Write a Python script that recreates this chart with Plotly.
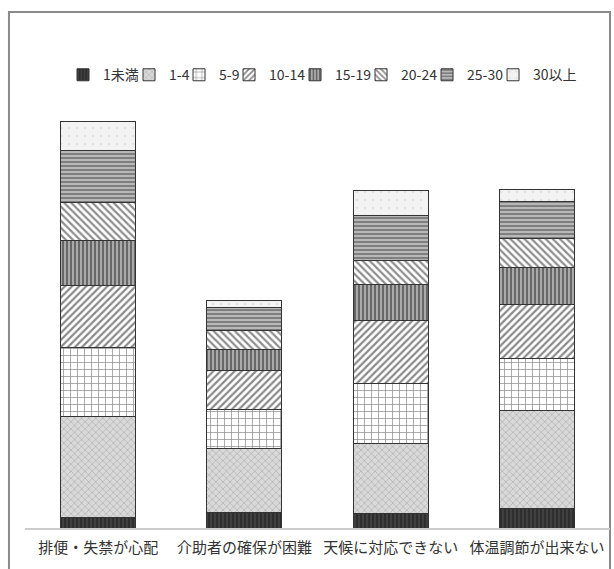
import plotly.graph_objects as go

# Categories (x axis) and age-band series
categories = ["排便・失禁が心配", "介助者の確保が困難", "天候に対応できない", "体温調節が出来ない"]
series_names = ["1未満", "1-4", "5-9", "10-14", "15-19", "20-24", "25-30", "30以上"]

under_1 = [2.7, 3.8, 3.7, 4.9]
age_1_4 = [25.3, 16.1, 17.5, 24.6]
age_5_9 = [17.1, 9.8, 15.0, 12.9]
age_10_14 = [15.5, 9.6, 15.8, 13.6]
age_15_19 = [11.4, 5.4, 9.0, 9.2]
age_20_24 = [9.3, 4.6, 5.8, 7.3]
age_25_30 = [13.0, 5.9, 11.4, 9.2]
over_30 = [7.3, 1.8, 6.3, 2.9]

series_values = [under_1, age_1_4, age_5_9, age_10_14, age_15_19, age_20_24, age_25_30, over_30]

# Monochrome hatch fills, one per age band
patterns = [
    dict(shape="|", fgcolor="#6a6a6a", bgcolor="#2e2e2e", size=4, solidity=0.3),
    dict(shape="x", fgcolor="#858585", bgcolor="#d9d9d9", size=5, solidity=0.25),
    dict(shape="+", fgcolor="#1e1e1e", bgcolor="#ffffff", size=7, solidity=0.2),
    dict(shape="/", fgcolor="#151515", bgcolor="#ffffff", size=5, solidity=0.45),
    dict(shape="|", fgcolor="#151515", bgcolor="#aaaaaa", size=4, solidity=0.45),
    dict(shape="\\", fgcolor="#1e1e1e", bgcolor="#ffffff", size=5, solidity=0.45),
    dict(shape="-", fgcolor="#2a2a2a", bgcolor="#b8b8b8", size=4, solidity=0.4),
    dict(shape=".", fgcolor="#cfcfcf", bgcolor="#f3f3f3", size=8, solidity=0.1),
]
# legend entry widths, kept tight so the row fits above the bars
legend_widths = [21, 5, 5, 21, 21, 21, 21, 44]

FONT = "Noto Sans CJK JP"

fig = go.Figure()
for name, vals, pat, lw in zip(series_names, series_values, patterns, legend_widths):
    fig.add_trace(go.Bar(
        x=categories,
        y=vals,
        name=name,
        legendwidth=lw,
        marker=dict(
            color=pat["bgcolor"],
            pattern=pat,
            line=dict(color="#333333", width=1),
        ),
    ))

fig.update_layout(
    width=614,
    height=569,
    barmode="stack",
    bargap=0.487,
    paper_bgcolor="white",
    plot_bgcolor="white",
    margin=dict(l=25, r=4, t=100, b=41),
    font=dict(family=FONT, color="#333333"),
    legend=dict(
        orientation="h",
        traceorder="normal",
        x=0.065,
        xanchor="left",
        y=1.058,
        yanchor="middle",
        font=dict(family=FONT, size=14, color="#333333"),
        bgcolor="rgba(0,0,0,0)",
    ),
    xaxis=dict(
        showgrid=False,
        showline=True,
        linecolor="#cccccc",
        linewidth=2,
        ticks="",
        ticklabelstandoff=5,
        tickfont=dict(family=FONT, size=15, color="#333333"),
    ),
    yaxis=dict(
        range=[0, 107],
        visible=False,
        showgrid=False,
        zeroline=False,
    ),
    shapes=[
        # outer frame around the chart
        dict(type="rect", xref="paper", yref="paper",
             x0=-0.0274, x1=1.0, y0=-0.12, y1=1.2056,
             line=dict(color="#8a8a8a", width=2), fillcolor="rgba(0,0,0,0)",
             layer="below"),
    ],
)

fig.write_html("out.html")
